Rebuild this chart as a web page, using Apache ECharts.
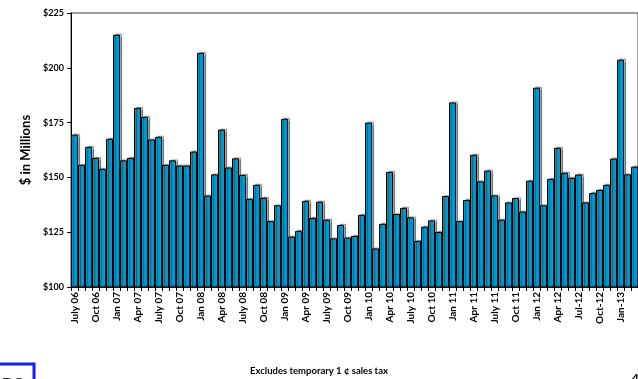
<!DOCTYPE html>
<html>
<head>
<meta charset="utf-8">
<script src="https://cdn.jsdelivr.net/npm/echarts@6/dist/echarts.min.js"></script>
<style>
  html, body { margin: 0; padding: 0; background: #fff; }
  #chart { width: 638px; height: 379px; }
</style>
</head>
<body>
<div id="chart"></div>
<script>
// Monthly collections, July 2006 through March 2013
const months = [
  'Jul 06','Aug 06','Sep 06','Oct 06','Nov 06','Dec 06',
  'Jan 07','Feb 07','Mar 07','Apr 07','May 07','Jun 07','Jul 07','Aug 07','Sep 07','Oct 07','Nov 07','Dec 07',
  'Jan 08','Feb 08','Mar 08','Apr 08','May 08','Jun 08','Jul 08','Aug 08','Sep 08','Oct 08','Nov 08','Dec 08',
  'Jan 09','Feb 09','Mar 09','Apr 09','May 09','Jun 09','Jul 09','Aug 09','Sep 09','Oct 09','Nov 09','Dec 09',
  'Jan 10','Feb 10','Mar 10','Apr 10','May 10','Jun 10','Jul 10','Aug 10','Sep 10','Oct 10','Nov 10','Dec 10',
  'Jan 11','Feb 11','Mar 11','Apr 11','May 11','Jun 11','Jul 11','Aug 11','Sep 11','Oct 11','Nov 11','Dec 11',
  'Jan 12','Feb 12','Mar 12','Apr 12','May 12','Jun 12','Jul 12','Aug 12','Sep 12','Oct 12','Nov 12','Dec 12',
  'Jan 13','Feb 13','Mar 13'
];

// Quarterly axis labels (one per third month)
const tickLabels = [
  'July 06','Oct 06','Jan 07','Apr 07','July 07','Oct 07','Jan 08','Apr 08','July 08','Oct 08',
  'Jan 09','Apr 09','July 09','Oct 09','Jan 10','Apr 10','July 10','Oct 10','Jan 11','Apr 11',
  'July 11','Oct 11','Jan 12','Apr 12','Jul-12','Oct-12','Jan-13'
];

// $ in millions
const collections = [
  169.5, 155.7, 163.9, 158.9, 153.9, 167.6,
  215.1, 157.8, 158.9, 181.7, 177.6, 167.3, 168.5, 155.7, 157.8, 155.4, 155.4, 161.8,
  206.8, 141.7, 151.4, 171.8, 154.5, 158.7, 151.1, 140.2, 146.6, 140.7, 130.1, 137.3,
  176.7, 123.0, 125.6, 139.3, 131.5, 138.9, 130.7, 122.2, 128.3, 122.5, 123.3, 132.9,
  175.0, 117.6, 128.8, 152.5, 133.3, 136.1, 131.8, 121.0, 127.5, 130.4, 125.1, 141.5,
  184.2, 130.1, 139.7, 160.3, 148.2, 153.1, 141.8, 130.7, 138.6, 140.6, 134.4, 148.5,
  190.9, 137.3, 149.3, 163.5, 152.1, 149.8, 151.3, 138.6, 142.9, 144.3, 146.6, 158.6,
  203.7, 151.4, 154.9
];

const FONT = 'Lato, "Open Sans", sans-serif';

const chart = echarts.init(document.getElementById('chart'), null, { renderer: 'canvas' });

chart.setOption({
  animation: false,
  backgroundColor: '#fff',
  grid: {
    left: 71, right: -3, top: 13, bottom: 92,
    show: true, borderColor: '#404040', borderWidth: 1, backgroundColor: 'transparent'
  },
  xAxis: {
    type: 'category',
    data: months,
    boundaryGap: true,
    axisLine: { lineStyle: { color: '#000', width: 1 } },
    axisTick: { show: true, interval: 0, length: 4, lineStyle: { color: '#000' } },
    axisLabel: {
      interval: 2,
      rotate: 90,
      margin: 5,
      color: '#000',
      fontFamily: FONT,
      fontWeight: 'bold',
      fontSize: 10,
      formatter: (v, i) => tickLabels[i / 3] || ''
    },
    splitLine: { show: false }
  },
  yAxis: {
    type: 'value',
    min: 100, max: 225, interval: 25,
    name: '$ in Millions',
    nameLocation: 'middle',
    nameGap: 38,
    nameTextStyle: { color: '#000', fontFamily: FONT, fontWeight: 'bold', fontSize: 13 },
    axisLine: { show: true, lineStyle: { color: '#000', width: 1 } },
    axisTick: { show: true, length: 4, lineStyle: { color: '#000' } },
    axisLabel: {
      margin: 7,
      color: '#000',
      fontFamily: FONT,
      fontWeight: 'bold',
      fontSize: 9,
      formatter: v => '$' + v
    },
    splitLine: { show: false }
  },
  series: [{
    type: 'bar',
    data: collections,
    barCategoryGap: '0%',
    itemStyle: {
      color: '#0099CC',
      borderColor: '#000',
      borderWidth: 1,
      shadowColor: 'rgba(0,0,0,0.35)',
      shadowOffsetX: 2,
      shadowOffsetY: -1,
      shadowBlur: 1
    }
  }],
  graphic: [
    {
      type: 'text',
      left: 'center',
      top: 366,
      style: {
        text: 'Excludes temporary 1 \u00a2 sales tax',
        font: 'bold 9.5px ' + FONT,
        fill: '#000'
      }
    },
    {
      type: 'rect',
      shape: { x: -10, y: 364, width: 44, height: 30 },
      style: { fill: 'none', stroke: '#1a1aff', lineWidth: 3 }
    },
    {
      type: 'text',
      x: 2, y: 376,
      style: { text: 'DS', font: 'bold 16px ' + FONT, fill: '#222', textVerticalAlign: 'top' }
    },
    {
      type: 'text',
      x: 631, y: 372,
      style: { text: '4', font: 'bold 14px ' + FONT, fill: '#222', textVerticalAlign: 'top' }
    }
  ]
});
</script>
</body>
</html>
